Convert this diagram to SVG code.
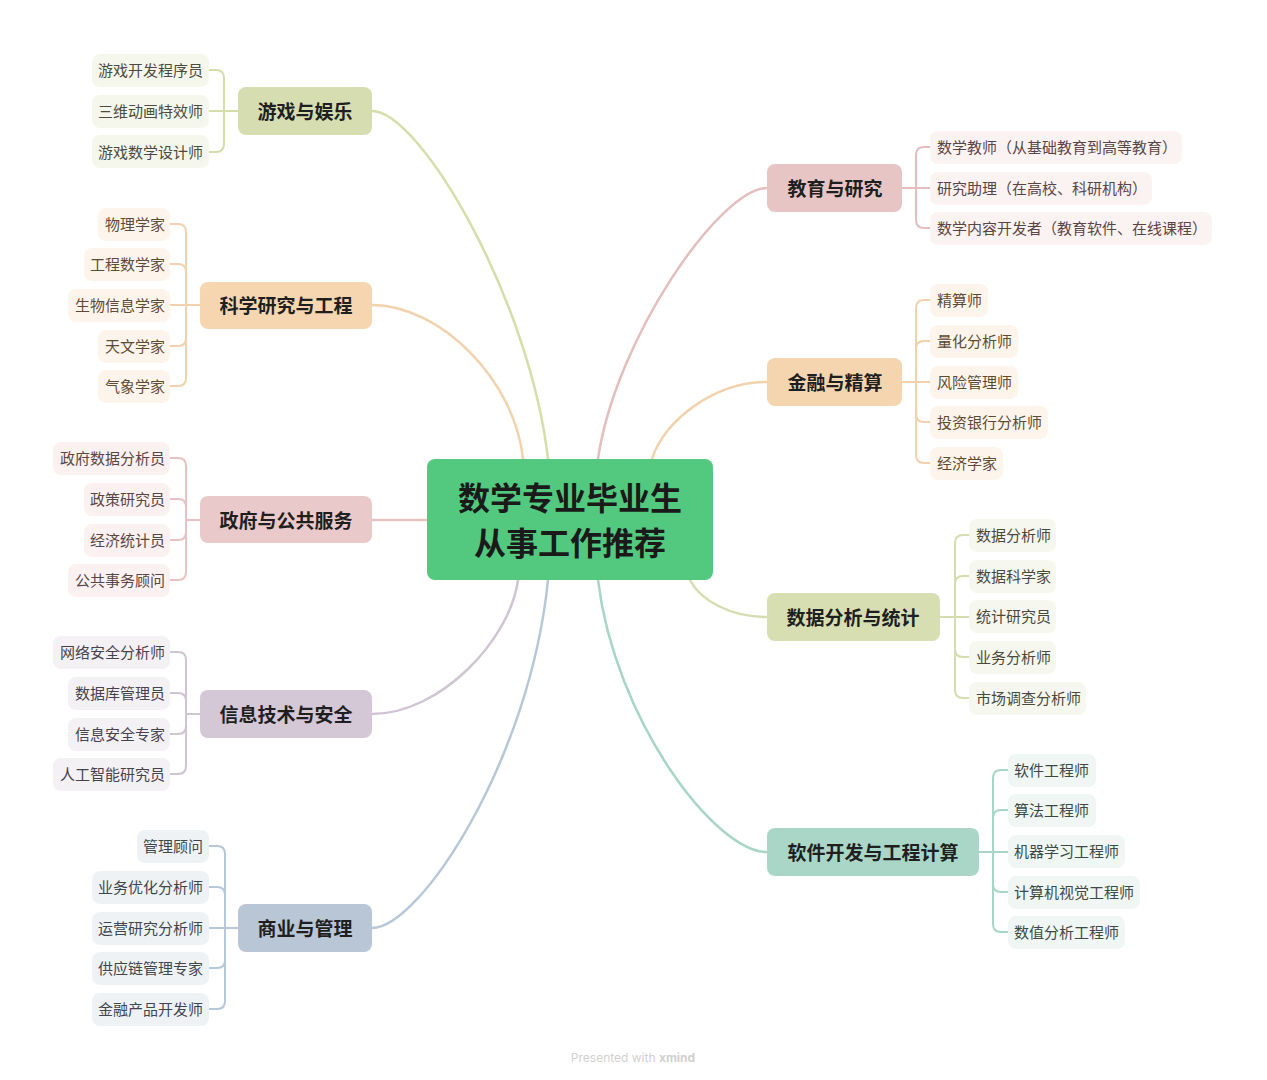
<svg xmlns="http://www.w3.org/2000/svg" width="1267" height="1080" viewBox="0 0 1267 1080">
<style>
text{font-family:"Noto Sans CJK SC","Noto Sans",sans-serif;dominant-baseline:central;transform:translateY(-1px)}
.c{fill:none;stroke-width:2.5;stroke-linecap:round}
.b{fill:none;stroke-width:2;stroke-linecap:round}
.m{font-size:19px;font-weight:bold;fill:#1f1f1f;text-anchor:middle}
.l{font-size:15px}
.le{text-anchor:end}
.g1{stroke:#D5DDA8}.g2{stroke:#F2D2AC}.g3{stroke:#E8C2C2}.g4{stroke:#D0C4D3}.g5{stroke:#B6C7D8}
.g6{stroke:#E4BDBD}.g7{stroke:#F2D2AC}.g8{stroke:#D5DCAE}.g9{stroke:#A8D6C6}
</style>
<rect width="1267" height="1080" fill="#ffffff"/>
<g id="connectors">
<path class="c g1" d="M372 111 C420 111 530 300 548 459"/>
<path class="c g2" d="M372 305 C440 305 515 380 523 459"/>
<path class="c g3" d="M372 520 H427"/>
<path class="c g4" d="M372 714 C440 714 510 640 518 580"/>
<path class="c g5" d="M372 928 C420 928 530 760 548 580"/>
<path class="c g6" d="M767 188 C720 188 615 340 598 459"/>
<path class="c g7" d="M767 382 C715 382 664 420 652 459"/>
<path class="c g8" d="M767 617 C730 617 700 600 690 580"/>
<path class="c g9" d="M767 852 C715 852 615 720 598 580"/>
<path class="b g1" d="M238 111 H209 M224 111 V78 Q224 70 216 70 H209 M224 111 V144 Q224 152 216 152 H209"/>
<path class="b g2" d="M200 305 H170 M186 305 V232 Q186 224 178 224 H170 M186 305 V272 Q186 264 178 264 H170 M186 305 V338 Q186 346 178 346 H170 M186 305 V378 Q186 386 178 386 H170"/>
<path class="b g3" d="M200 520 H186 M186 520 V466 Q186 458 178 458 H170 M186 520 V507 Q186 499 178 499 H170 M186 520 V532 Q186 540 178 540 H170 M186 520 V572 Q186 580 178 580 H170"/>
<path class="b g4" d="M200 714 H186 M186 714 V660 Q186 652 178 652 H170 M186 714 V701 Q186 693 178 693 H170 M186 714 V726 Q186 734 178 734 H170 M186 714 V766 Q186 774 178 774 H170"/>
<path class="b g5" d="M238 928 H209 M225 928 V854 Q225 846 217 846 H209 M225 928 V895 Q225 887 217 887 H209 M225 928 V960 Q225 968 217 968 H209 M225 928 V1001 Q225 1009 217 1009 H209"/>
<path class="b g6" d="M902 188 H930 M916 188 V155 Q916 147 924 147 H930 M916 188 V220 Q916 228 924 228 H930"/>
<path class="b g7" d="M902 382 H930 M916 382 V308 Q916 300 924 300 H930 M916 382 V349 Q916 341 924 341 H930 M916 382 V414 Q916 422 924 422 H930 M916 382 V455 Q916 463 924 463 H930"/>
<path class="b g8" d="M940 617 H969 M955 617 V543 Q955 535 963 535 H969 M955 617 V584 Q955 576 963 576 H969 M955 617 V649 Q955 657 963 657 H969 M955 617 V690 Q955 698 963 698 H969"/>
<path class="b g9" d="M979 852 H1008 M993 852 V778 Q993 770 1001 770 H1008 M993 852 V818 Q993 810 1001 810 H1008 M993 852 V884 Q993 892 1001 892 H1008 M993 852 V924 Q993 932 1001 932 H1008"/>
</g>
<g id="center">
<rect x="427" y="459" width="286" height="121" rx="8" fill="#52C97F"/>
<text x="570" y="497" font-size="32" font-weight="bold" fill="#1a1a1a" text-anchor="middle">数学专业毕业生</text>
<text x="570" y="542" font-size="32" font-weight="bold" fill="#1a1a1a" text-anchor="middle">从事工作推荐</text>
</g>
<g id="b-game">
<rect x="238" y="87" width="134" height="48" rx="8" fill="#D6DDB0"/><text class="m" x="305" y="111">游戏与娱乐</text>
</g>
<g id="b-game-leaves" fill="#F6F7EC">
<rect x="92" y="54" width="117" height="33" rx="8"/><text class="l le" x="203" y="70" fill="#4B4B3E">游戏开发程序员</text>
<rect x="92" y="95" width="117" height="33" rx="8"/><text class="l le" x="203" y="111" fill="#4B4B3E">三维动画特效师</text>
<rect x="92" y="135" width="117" height="33" rx="8"/><text class="l le" x="203" y="152" fill="#4B4B3E">游戏数学设计师</text>
</g>
<g id="b-sci">
<rect x="200" y="282" width="172" height="47" rx="8" fill="#F5D6B0"/><text class="m" x="286" y="305">科学研究与工程</text>
</g>
<g id="b-sci-leaves" fill="#FDF5EB">
<rect x="98" y="208" width="72" height="33" rx="8"/><text class="l le" x="165" y="224" fill="#5E4B37">物理学家</text>
<rect x="84" y="248" width="86" height="33" rx="8"/><text class="l le" x="165" y="264" fill="#5E4B37">工程数学家</text>
<rect x="68" y="289" width="102" height="33" rx="8"/><text class="l le" x="165" y="305" fill="#5E4B37">生物信息学家</text>
<rect x="98" y="330" width="72" height="33" rx="8"/><text class="l le" x="165" y="346" fill="#5E4B37">天文学家</text>
<rect x="98" y="370" width="72" height="33" rx="8"/><text class="l le" x="165" y="386" fill="#5E4B37">气象学家</text>
</g>
<g id="b-gov">
<rect x="200" y="496" width="172" height="47" rx="8" fill="#E9C9C9"/><text class="m" x="286" y="520">政府与公共服务</text>
</g>
<g id="b-gov-leaves" fill="#FBF1F1">
<rect x="53" y="442" width="117" height="33" rx="8"/><text class="l le" x="165" y="458" fill="#5A4646">政府数据分析员</text>
<rect x="84" y="483" width="86" height="33" rx="8"/><text class="l le" x="165" y="499" fill="#5A4646">政策研究员</text>
<rect x="84" y="524" width="86" height="33" rx="8"/><text class="l le" x="165" y="540" fill="#5A4646">经济统计员</text>
<rect x="68" y="564" width="102" height="33" rx="8"/><text class="l le" x="165" y="580" fill="#5A4646">公共事务顾问</text>
</g>
<g id="b-it">
<rect x="200" y="690" width="172" height="48" rx="8" fill="#D4C7D6"/><text class="m" x="286" y="714">信息技术与安全</text>
</g>
<g id="b-it-leaves" fill="#F4F1F5">
<rect x="53" y="636" width="117" height="33" rx="8"/><text class="l le" x="165" y="652" fill="#48424D">网络安全分析师</text>
<rect x="68" y="677" width="102" height="33" rx="8"/><text class="l le" x="165" y="693" fill="#48424D">数据库管理员</text>
<rect x="68" y="718" width="102" height="33" rx="8"/><text class="l le" x="165" y="734" fill="#48424D">信息安全专家</text>
<rect x="53" y="758" width="117" height="33" rx="8"/><text class="l le" x="165" y="774" fill="#48424D">人工智能研究员</text>
</g>
<g id="b-biz">
<rect x="238" y="904" width="134" height="48" rx="8" fill="#B8C6D5"/><text class="m" x="305" y="928">商业与管理</text>
</g>
<g id="b-biz-leaves" fill="#EFF2F5">
<rect x="137" y="830" width="72" height="33" rx="8"/><text class="l le" x="203" y="846" fill="#3E4650">管理顾问</text>
<rect x="92" y="871" width="117" height="33" rx="8"/><text class="l le" x="203" y="887" fill="#3E4650">业务优化分析师</text>
<rect x="92" y="912" width="117" height="33" rx="8"/><text class="l le" x="203" y="928" fill="#3E4650">运营研究分析师</text>
<rect x="92" y="952" width="117" height="33" rx="8"/><text class="l le" x="203" y="968" fill="#3E4650">供应链管理专家</text>
<rect x="92" y="993" width="117" height="33" rx="8"/><text class="l le" x="203" y="1009" fill="#3E4650">金融产品开发师</text>
</g>
<g id="b-edu">
<rect x="767" y="164" width="135" height="48" rx="8" fill="#E8C5C5"/><text class="m" x="835" y="188">教育与研究</text>
</g>
<g id="b-edu-leaves" fill="#FBF2F2">
<rect x="930" y="131" width="252" height="33" rx="8"/><text class="l" x="937" y="147" fill="#5A4545">数学教师（从基础教育到高等教育）</text>
<rect x="930" y="172" width="222" height="33" rx="8"/><text class="l" x="937" y="188" fill="#5A4545">研究助理（在高校、科研机构）</text>
<rect x="930" y="212" width="282" height="33" rx="8"/><text class="l" x="937" y="228" fill="#5A4545">数学内容开发者（教育软件、在线课程）</text>
</g>
<g id="b-fin">
<rect x="767" y="358" width="135" height="48" rx="8" fill="#F5D5B0"/><text class="m" x="835" y="382">金融与精算</text>
</g>
<g id="b-fin-leaves" fill="#FDF5EC">
<rect x="930" y="284" width="58" height="33" rx="8"/><text class="l" x="937" y="300" fill="#5E4A33">精算师</text>
<rect x="930" y="325" width="88" height="33" rx="8"/><text class="l" x="937" y="341" fill="#5E4A33">量化分析师</text>
<rect x="930" y="366" width="88" height="33" rx="8"/><text class="l" x="937" y="382" fill="#5E4A33">风险管理师</text>
<rect x="930" y="406" width="118" height="33" rx="8"/><text class="l" x="937" y="422" fill="#5E4A33">投资银行分析师</text>
<rect x="930" y="447" width="73" height="33" rx="8"/><text class="l" x="937" y="463" fill="#5E4A33">经济学家</text>
</g>
<g id="b-data">
<rect x="767" y="593" width="173" height="48" rx="8" fill="#D7DEB2"/><text class="m" x="853" y="617">数据分析与统计</text>
</g>
<g id="b-data-leaves" fill="#F6F7EE">
<rect x="969" y="519" width="87" height="33" rx="8"/><text class="l" x="976" y="535" fill="#4A4A3C">数据分析师</text>
<rect x="969" y="560" width="87" height="33" rx="8"/><text class="l" x="976" y="576" fill="#4A4A3C">数据科学家</text>
<rect x="969" y="600" width="87" height="33" rx="8"/><text class="l" x="976" y="616" fill="#4A4A3C">统计研究员</text>
<rect x="969" y="641" width="87" height="33" rx="8"/><text class="l" x="976" y="657" fill="#4A4A3C">业务分析师</text>
<rect x="969" y="682" width="117" height="33" rx="8"/><text class="l" x="976" y="698" fill="#4A4A3C">市场调查分析师</text>
</g>
<g id="b-soft">
<rect x="767" y="828" width="212" height="48" rx="8" fill="#A9D6C7"/><text class="m" x="873" y="852">软件开发与工程计算</text>
</g>
<g id="b-soft-leaves" fill="#EFF6F3">
<rect x="1008" y="754" width="88" height="33" rx="8"/><text class="l" x="1014" y="770" fill="#3C4A45">软件工程师</text>
<rect x="1008" y="794" width="88" height="33" rx="8"/><text class="l" x="1014" y="810" fill="#3C4A45">算法工程师</text>
<rect x="1008" y="835" width="117" height="33" rx="8"/><text class="l" x="1014" y="851" fill="#3C4A45">机器学习工程师</text>
<rect x="1008" y="876" width="132" height="33" rx="8"/><text class="l" x="1014" y="892" fill="#3C4A45">计算机视觉工程师</text>
<rect x="1008" y="916" width="117" height="33" rx="8"/><text class="l" x="1014" y="932" fill="#3C4A45">数值分析工程师</text>
</g>
<text x="633" y="1058" font-size="12" fill="#cfcfcf" text-anchor="middle" style="font-family:Inter,'Noto Sans',sans-serif">Presented with <tspan font-weight="bold">xmind</tspan></text>
</svg>
